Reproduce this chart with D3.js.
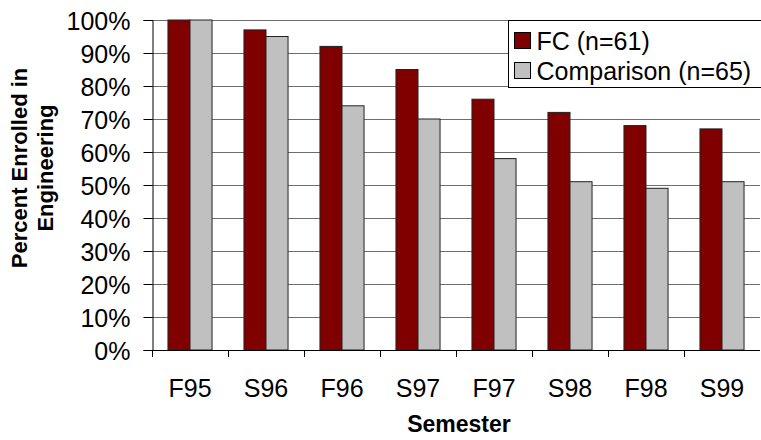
<!DOCTYPE html>
<html>
<head>
<meta charset="utf-8">
<script src="https://cdn.jsdelivr.net/npm/d3@7"></script>
<style>
  body { margin: 0; background: #fff; }
  text { font-family: Arial, "Liberation Sans", sans-serif; fill: #000; }
</style>
</head>
<body>
<div id="chart"></div>
<script>
// data
var semesters = ["F95", "S96", "F96", "S97", "F97", "S98", "F98", "S99"];
var fcValues = [100, 97, 92, 85, 76, 72, 68, 67];
var compValues = [100, 95, 74, 70, 58, 51, 49, 51];
var seriesNames = ["FC (n=61)", "Comparison (n=65)"];
var seriesColors = ["#800000", "#c0c0c0"];
var yTicks = [0, 10, 20, 30, 40, 50, 60, 70, 80, 90, 100];

var W = 761, H = 440;
var margin = {top: 20, right: 1, bottom: 90, left: 152};

var svg = d3.select("#chart").append("svg")
    .attr("width", W)
    .attr("height", H);

var xScale = d3.scaleBand()
    .domain(semesters)
    .range([margin.left, W - margin.right])
    .paddingInner(0.42)
    .paddingOuter(0.21);

var xInner = d3.scaleBand()
    .domain([0, 1])
    .range([0, xScale.bandwidth()]);

var yScale = d3.scaleLinear()
    .domain([0, 100])
    .range([H - margin.bottom, margin.top]);

// gridlines
svg.append("g")
  .selectAll("line")
  .data(yTicks.filter(d => d > 0))
  .enter().append("line")
    .attr("x1", margin.left)
    .attr("x2", W - margin.right)
    .attr("y1", d => Math.round(yScale(d)) + 0.5)
    .attr("y2", d => Math.round(yScale(d)) + 0.5)
    .attr("stroke", "#6e6e6e")
    .attr("stroke-width", 1);

// bars
var rows = semesters.map((s, i) => ({sem: s, vals: [fcValues[i], compValues[i]]}));

var groups = svg.selectAll(".grp")
    .data(rows)
    .enter().append("g")
    .attr("class", "grp")
    .attr("transform", d => "translate(" + xScale(d.sem) + ",0)");

groups.selectAll("rect")
    .data(d => d.vals.map((v, k) => ({k: k, v: v})))
    .enter().append("rect")
    .attr("x", d => xInner(d.k))
    .attr("y", d => yScale(d.v))
    .attr("width", xInner.bandwidth())
    .attr("height", d => yScale(0) - yScale(d.v))
    .attr("fill", d => seriesColors[d.k])
    .attr("stroke", "#222")
    .attr("stroke-width", 1);

// y axis
var yAxis = svg.append("g")
    .attr("transform", "translate(" + (margin.left + 0.5) + ",0)")
    .call(d3.axisLeft(yScale)
      .tickValues(yTicks)
      .tickFormat(d => d + "%")
      .tickSize(9)
      .tickPadding(13));
yAxis.select(".domain").attr("stroke", "#000");
yAxis.selectAll(".tick line").attr("stroke", "#000");
yAxis.selectAll("text").style("font-size", "25px").attr("dy", "0.36em");

// x axis
var bands = semesters.map(s => xScale(s) - xScale.step() * xScale.paddingInner() / 2);
var xAxis = svg.append("g");
xAxis.append("line")
    .attr("x1", margin.left)
    .attr("x2", W - margin.right)
    .attr("y1", yScale(0) + 0.5)
    .attr("y2", yScale(0) + 0.5)
    .attr("stroke", "#000");
xAxis.selectAll(".xt")
    .data(bands)
    .enter().append("line")
    .attr("x1", d => Math.round(d) + 0.5)
    .attr("x2", d => Math.round(d) + 0.5)
    .attr("y1", yScale(0))
    .attr("y2", yScale(0) + 7)
    .attr("stroke", "#000");
xAxis.selectAll(".xl")
    .data(semesters)
    .enter().append("text")
    .attr("x", d => xScale(d) + xScale.bandwidth() / 2)
    .attr("y", 397)
    .attr("text-anchor", "middle")
    .style("font-size", "25px")
    .text(d => d);

// axis titles
svg.append("text")
    .attr("x", 459)
    .attr("y", 432)
    .attr("text-anchor", "middle")
    .style("font-size", "23px")
    .style("font-weight", "bold")
    .text("Semester");

var yTitle = svg.append("text")
    .attr("transform", "translate(0,168) rotate(-90)")
    .attr("text-anchor", "middle")
    .style("font-size", "22px")
    .style("font-weight", "bold");
yTitle.append("tspan").attr("x", 0).attr("y", 27).text("Percent Enrolled in");
yTitle.append("tspan").attr("x", 0).attr("y", 53).text("Engineering");

// legend
var legend = svg.append("g").attr("transform", "translate(508.5,20.5)");
legend.append("rect")
    .attr("width", 270)
    .attr("height", 67)
    .attr("fill", "#fff")
    .attr("stroke", "#000");
seriesNames.forEach(function (name, i) {
  legend.append("rect")
    .attr("x", 6)
    .attr("y", 12 + i * 30)
    .attr("width", 16)
    .attr("height", 16)
    .attr("fill", seriesColors[i])
    .attr("stroke", "#000");
  legend.append("text")
    .attr("x", 28)
    .attr("y", 29 + i * 30)
    .style("font-size", "25px")
    .text(name);
});
</script>
</body>
</html>
